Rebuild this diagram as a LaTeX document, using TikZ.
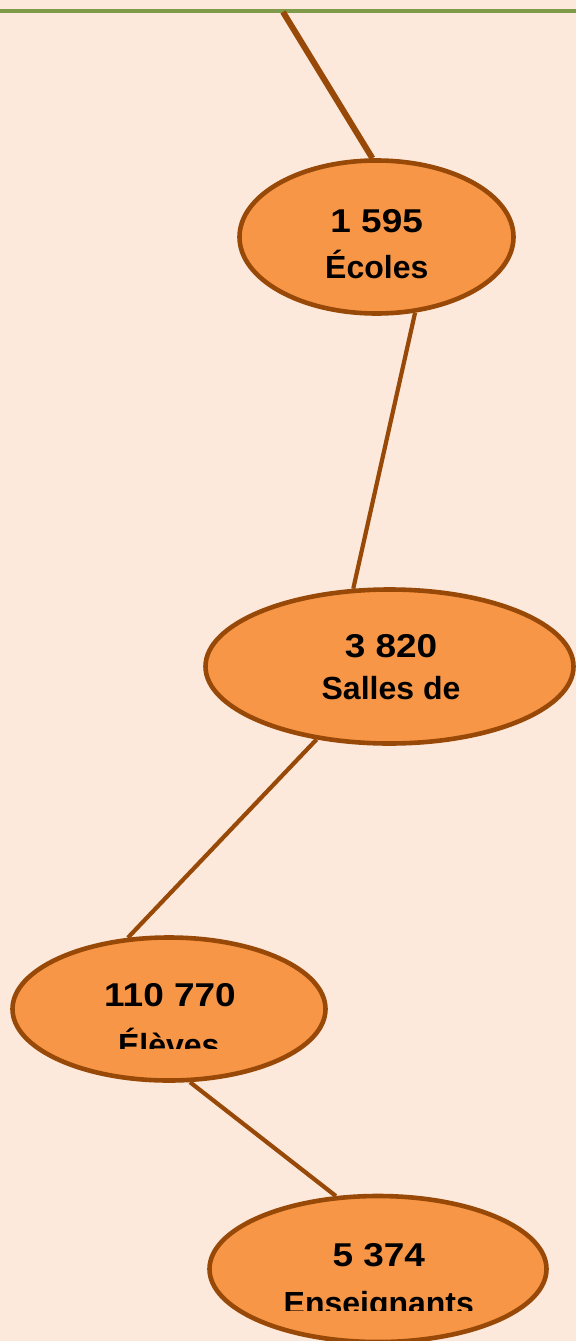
\documentclass[tikz,border=0pt]{standalone}
\usepackage{fontspec}
\setmainfont{Liberation Sans}
\newfontfamily\numfont[FakeStretch=1.12]{Liberation Sans}
\usetikzlibrary{shapes.geometric}
\definecolor{bgc}{HTML}{FCE9DB}
\definecolor{fillc}{HTML}{F79646}
\definecolor{edgec}{HTML}{984807}
\definecolor{greenc}{HTML}{7F9A48}
\tikzset{
  bubble/.style={ellipse, draw=edgec, fill=fillc, line width=4.6pt, inner sep=0pt},
  numtext/.style={anchor=base, font=\numfont\bfseries\fontsize{33}{33}\selectfont, text=black, inner sep=0pt},
  labtext/.style={anchor=base, font=\bfseries\fontsize{32}{32}\selectfont, text=black, inner sep=0pt},
  link/.style={draw=edgec, line width=4.2pt},
  toplink/.style={draw=edgec, line width=6pt}
}
\begin{document}
\begin{tikzpicture}[x=1pt,y=-1pt]
\useasboundingbox (0,0) rectangle (576,1341);
\fill[bgc] (0,0) rectangle (576,1341);
\draw[greenc, line width=4pt] (0,11) -- (576,11);
\coordinate (top) at (283,12);
% ellipses
\node[bubble, minimum width=274pt, minimum height=153pt] (e1) at (376.5,237) {};
\node[bubble, minimum width=368pt, minimum height=154pt] (e2) at (389.5,666.5) {};
\node[bubble, minimum width=313pt, minimum height=143pt] (e3) at (169,1009) {};
\node[bubble, minimum width=337pt, minimum height=146pt] (e4) at (378,1269) {};
% connectors
\draw[toplink] (top) -- (e1.93);
\draw[link] (e1.-63) -- (e2.115.5);
\draw[link] (e2.225) -- (e3.120.5);
\draw[link] (e3.-74) -- (e4.120);
% texts
\node[numtext] (n1) at (376.7,232) {1 595};
\node[labtext] (l1) at (376.8,278) {Écoles};
\node[numtext] (n2) at (391,657) {3 820};
\node[labtext] (l2) at (391,699) {Salles de};
\node[numtext] (n3) at (170,1006) {110 770};
\node[numtext] (n4) at (378.8,1266) {5 374};
\begin{scope}
\clip (0,0) rectangle (576,1048);
\node[labtext] (l3) at (168.8,1056) {Élèves};
\end{scope}
\begin{scope}
\clip (0,0) rectangle (576,1310);
\node[labtext] (l4) at (378.8,1314) {Enseignants};
\end{scope}
\end{tikzpicture}
\end{document}
